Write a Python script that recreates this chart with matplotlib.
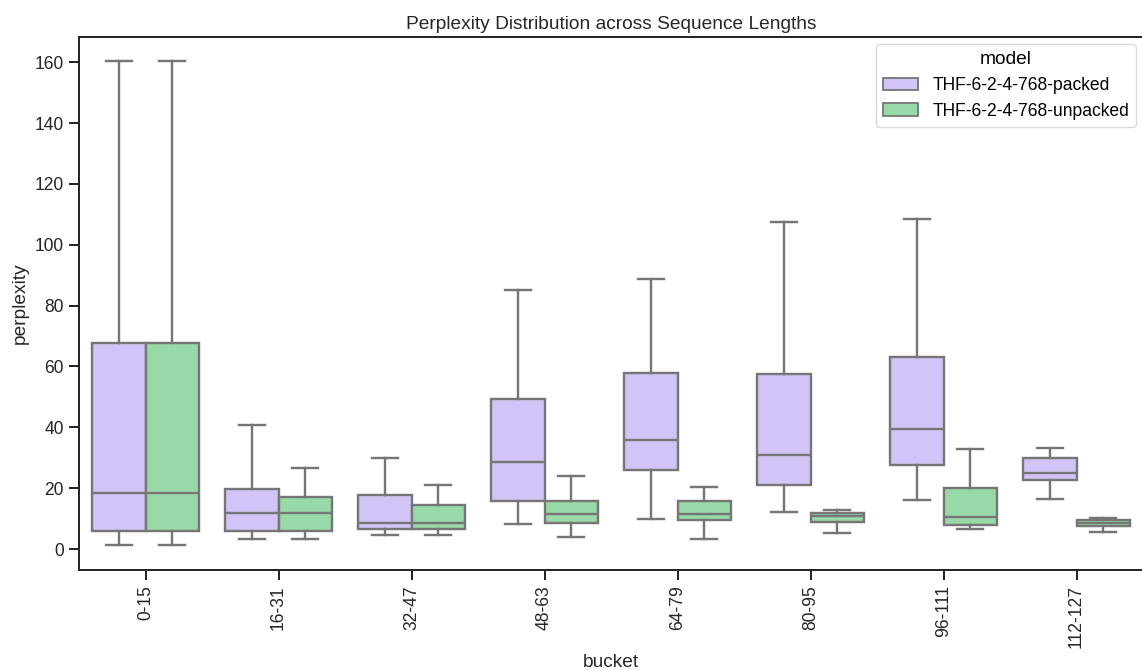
import matplotlib
matplotlib.use("Agg")
import matplotlib.pyplot as plt
from matplotlib.patches import Patch
import seaborn as sns

buckets = ["0-15", "16-31", "32-47", "48-63", "64-79", "80-95", "96-111", "112-127"]
models = ["THF-6-2-4-768-packed", "THF-6-2-4-768-unpacked"]

packed_lo = [1.2, 3.3, 4.5, 8.2, 9.9, 12.3, 16.2, 16.6]
packed_q1 = [5.8, 5.8, 6.6, 15.7, 26.1, 20.9, 27.5, 22.8]
packed_med = [18.4, 11.8, 8.5, 28.6, 35.9, 30.8, 39.3, 25.1]
packed_q3 = [67.7, 19.8, 17.8, 49.4, 57.9, 57.6, 63.1, 30.0]
packed_hi = [160.5, 40.6, 30.0, 85.0, 88.8, 107.4, 108.5, 33.1]

unpacked_lo = [1.2, 3.3, 4.5, 4.1, 3.3, 5.3, 6.7, 5.6]
unpacked_q1 = [5.8, 5.8, 6.6, 8.7, 9.6, 9.0, 7.8, 7.4]
unpacked_med = [18.4, 11.8, 8.5, 11.5, 11.6, 11.0, 10.6, 8.7]
unpacked_q3 = [67.7, 17.2, 14.6, 15.7, 15.9, 11.8, 20.1, 9.5]
unpacked_hi = [160.5, 26.6, 21.2, 24.1, 20.4, 12.7, 33.0, 10.3]

series = [
    (packed_lo, packed_q1, packed_med, packed_q3, packed_hi),
    (unpacked_lo, unpacked_q1, unpacked_med, unpacked_q3, unpacked_hi),
]

pal = sns.color_palette("pastel")
colors = [sns.desaturate(pal[4], 0.75), sns.desaturate(pal[2], 0.75)]
line_color = "#767676"
fs_big = 13.8
fs_small = 12.65
lw = 1.725

plt.rcParams["font.family"] = ["Liberation Sans", "DejaVu Sans"]
plt.rcParams["font.size"] = fs_big

fig = plt.figure(figsize=(11.42, 6.70), dpi=100)
ax = fig.add_axes([79 / 1142, (670 - 570) / 670, 1064 / 1142, 533 / 670])

offsets = [-0.2, 0.2]
for k, (lo, q1, med, q3, hi) in enumerate(series):
    stats = []
    for i in range(len(buckets)):
        stats.append(dict(whislo=lo[i], q1=q1[i], med=med[i], q3=q3[i],
                          whishi=hi[i], fliers=[], label=buckets[i]))
    pos = [i + offsets[k] for i in range(len(buckets))]
    ax.bxp(stats, positions=pos, widths=0.4, patch_artist=True,
           showfliers=False, manage_ticks=False,
           boxprops=dict(facecolor=colors[k], edgecolor=line_color, linewidth=lw),
           medianprops=dict(color=line_color, linewidth=lw),
           whiskerprops=dict(color=line_color, linewidth=lw),
           capprops=dict(color=line_color, linewidth=lw),
           capwidths=0.2)

ax.set_xlim(-0.5, len(buckets) - 0.5)
ax.set_xticks(range(len(buckets)))
ax.set_xticklabels(buckets, rotation=90)
ax.set_ylim(-6.9, 168.3)
ax.set_yticks([0, 20, 40, 60, 80, 100, 120, 140, 160])
ax.tick_params(axis="both", length=6.9, width=1.44, pad=4.0, colors="#262626",
               labelsize=fs_small, labelcolor="#262626")
for s in ax.spines.values():
    s.set_linewidth(1.44)
    s.set_color("#262626")

ax.set_xlabel("bucket", fontsize=fs_big, color="#262626")
ax.set_ylabel("perplexity", fontsize=fs_big, color="#262626")
ax.set_title("Perplexity Distribution across Sequence Lengths", fontsize=fs_big, color="#262626")

handles = [Patch(facecolor=colors[k], edgecolor=line_color, linewidth=1.3, label=models[k]) for k in range(2)]
leg = ax.legend(handles=handles, title="model", loc="upper right", fontsize=fs_small,
                title_fontsize=fs_big, frameon=True, borderaxespad=0.4)
leg.get_frame().set_edgecolor("#d0d0d0")

fig.savefig("out.png", dpi=100)
